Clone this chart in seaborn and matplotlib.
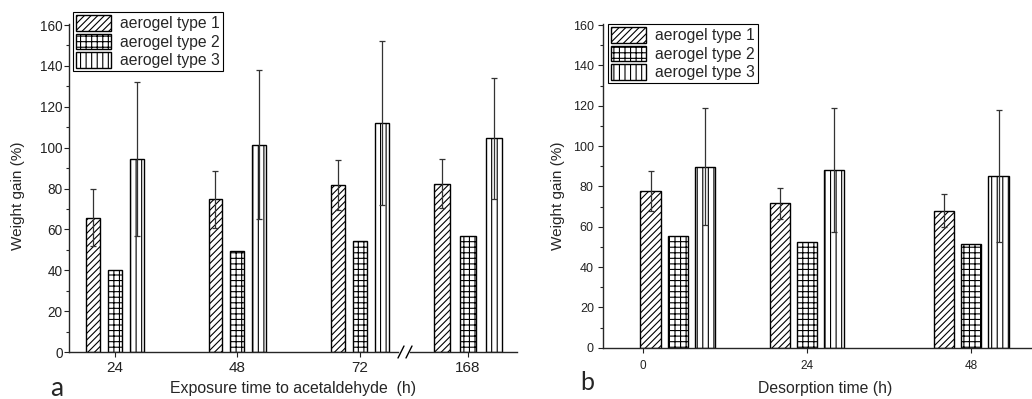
import numpy as np
import matplotlib
matplotlib.use("Agg")
import matplotlib.pyplot as plt
from matplotlib.ticker import MultipleLocator, AutoMinorLocator
from matplotlib.lines import Line2D
import seaborn as sns

# ---- data ----
types = ["aerogel type 1", "aerogel type 2", "aerogel type 3"]

exposure_h = [24, 48, 72, 168]
expo_type1 = [65.7, 74.8, 81.8, 82.4]
expo_type1_err = [14.0, 14.0, 12.2, 12.0]
expo_type2 = [40.3, 49.4, 54.5, 56.9]
expo_type3 = [94.5, 101.5, 112.0, 104.5]
expo_type3_err = [37.6, 36.6, 40.0, 29.8]

desorp_h = [0, 24, 48]
desorp_type1 = [77.6, 71.5, 67.9]
desorp_type1_err = [9.8, 7.5, 8.2]
desorp_type2 = [55.4, 52.4, 51.4]
desorp_type3 = [89.7, 88.3, 85.2]
desorp_type3_err = [29.0, 30.7, 32.6]

sns.set_style("ticks")
plt.rcParams['font.family'] = ['Liberation Sans', 'DejaVu Sans']
plt.rcParams['hatch.linewidth'] = 0.8
plt.rcParams['axes.linewidth'] = 1.0

W, H = 1032, 399
hatches = ["/////", "+++", "|||"]


def draw_bars(ax, x, means, errs, offset, width):
    for i in range(3):
        xs = np.asarray(x, float) + (i - 1) * offset
        ax.bar(xs, means[i], width, color="white", edgecolor="black", lw=1.0,
               hatch=hatches[i], label=types[i], zorder=2)
        if errs[i] is not None:
            ax.errorbar(xs, means[i], yerr=errs[i], fmt="none", ecolor="#333333",
                        elinewidth=0.9, capsize=2.5, capthick=0.9, zorder=3)


def style_axis(ax, xsize, ysize, xpad, ypad):
    ax.set_ylim(0, 160.5)
    ax.yaxis.set_major_locator(MultipleLocator(20))
    ax.yaxis.set_minor_locator(AutoMinorLocator(2))
    ax.tick_params(axis="y", which="major", length=3.6, width=0.8, labelsize=ysize,
                   pad=ypad, colors="#222222")
    ax.tick_params(axis="y", which="minor", length=2.2, width=0.8)
    ax.tick_params(axis="x", length=3.8, width=0.8, labelsize=xsize, pad=xpad,
                   colors="#222222")
    sns.despine(ax=ax)


fig = plt.figure(figsize=(W / 100, H / 100), dpi=100)

# panel a: broken x axis -> two axes
ax1 = fig.add_axes([69 / W, 47 / H, (398 - 69) / W, 328 / H])
ax2 = fig.add_axes([410 / W, 47 / H, (517 - 410) / W, 328 / H], sharey=ax1)

means_a = [expo_type1, expo_type2, expo_type3]
errs_a = [expo_type1_err, None, expo_type3_err]
for ax in (ax1, ax2):
    draw_bars(ax, exposure_h, means_a, errs_a, 4.3, 2.7)
    ax.set_xticks(exposure_h)
    style_axis(ax, 11, 9.8, 2.5, 1.0)
ax1.set_xlim(15, 79.5)
ax2.set_xlim(158.3, 176.2)
sns.despine(ax=ax2, left=True)
ax2.tick_params(axis="y", which="both", left=False, labelleft=False)

# break marks
for x0 in (398, 406):
    fig.add_artist(Line2D([x0 / W, (x0 + 6) / W], [1 - 358 / H, 1 - 346 / H],
                          transform=fig.transFigure, color="black", lw=1.0))

# panel b
ax3 = fig.add_axes([603 / W, 51.3 / H, (W - 603) / W, 323.7 / H])
centers = np.array(desorp_h, float)
centers[0] += 5.1  # first group sits right of its tick in the original
draw_bars(ax3, centers, [desorp_type1, desorp_type2, desorp_type3],
          [desorp_type1_err, None, desorp_type3_err], 4.0, 2.93)
ax3.set_xticks(desorp_h)
ax3.set_xlim(-5.85, 56.9)
style_axis(ax3, 8.5, 9.0, 4.8, 3.0)

# labels
fig.text(18 / W, 1 - 196 / H, "Weight gain (%)", rotation=90, ha="center", va="center",
         fontsize=11)
fig.text(558 / W, 1 - 196 / H, "Weight gain (%)", rotation=90, ha="center", va="center",
         fontsize=11)
fig.text(293 / W, 1 - 389 / H, "Exposure time to acetaldehyde  (h)", ha="center",
         va="center", fontsize=11.4)
fig.text(825 / W, 1 - 389 / H, "Desorption time (h)", ha="center", va="center",
         fontsize=11.3)
fig.text(50 / W, 3 / H, "a", fontsize=19, va="baseline", family=["Lato", "DejaVu Sans"])
fig.text(580 / W, 9 / H, "b", fontsize=18, va="baseline", family=["Lato", "DejaVu Sans"])

# legends
for ax, (lx, ly) in ((ax1, (73, 12)), (ax3, (608, 24))):
    leg = ax.legend(loc="upper left", bbox_to_anchor=(lx / W, 1 - ly / H),
                    bbox_transform=fig.transFigure, borderaxespad=0, fontsize=11.3,
                    handlelength=2.25, handleheight=1.15, labelspacing=0.15,
                    borderpad=0.2, handletextpad=0.55, fancybox=False, framealpha=1)
    leg.get_frame().set_edgecolor("black")
    leg.get_frame().set_linewidth(0.8)
    leg.set_zorder(10)

fig.savefig("out.png", dpi=100)
